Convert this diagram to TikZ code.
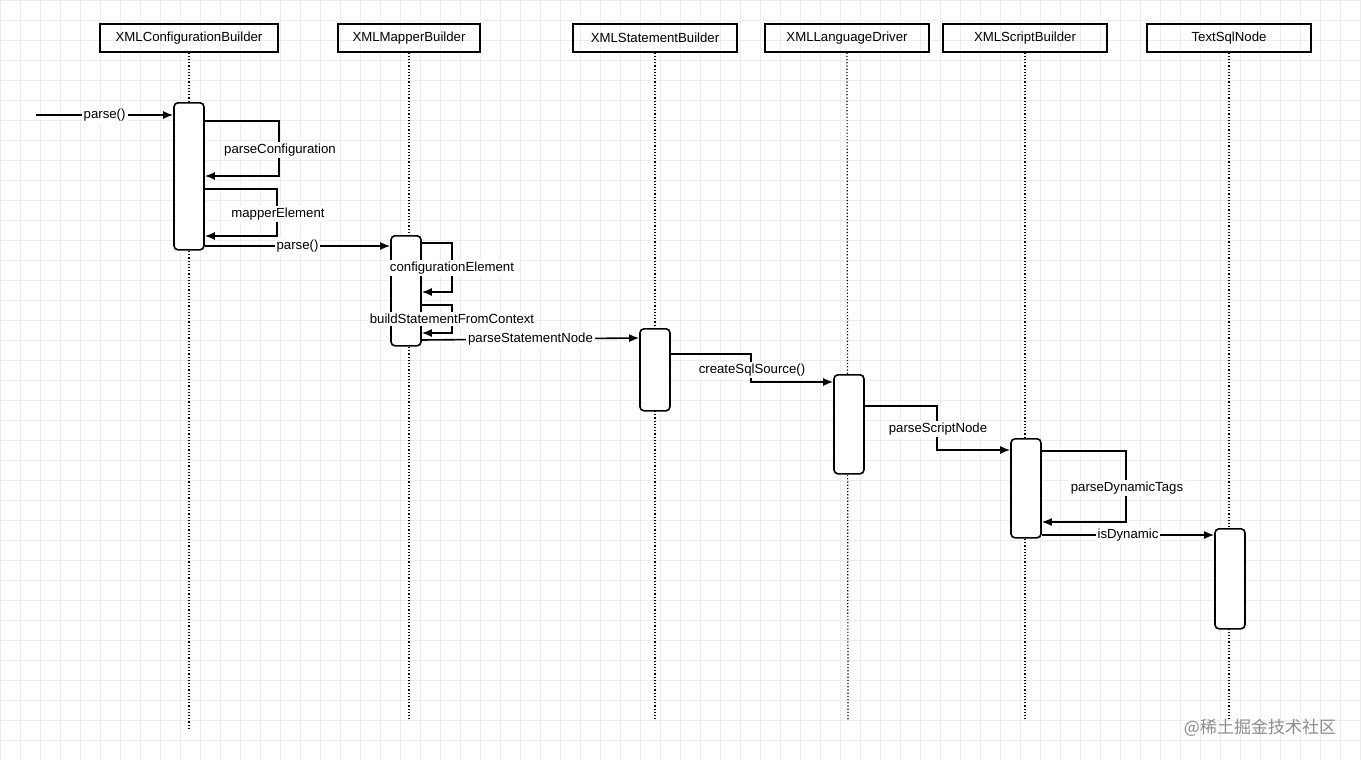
\documentclass[tikz,border=0pt]{standalone}
\usepackage{fontspec}
\setmainfont{Liberation Sans}
\newfontfamily\cjk{Noto Sans CJK SC}
\usetikzlibrary{arrows.meta}

\tikzset{
  head/.style={draw, semithick, minimum width=#1, minimum height=14pt, inner sep=0pt, font=\fontsize{6.6}{8}\selectfont},
  act/.style={draw, thick, fill=white, rounded corners=2pt, minimum width=15pt, inner sep=0pt},
  life/.style={densely dotted, semithick},
  msg/.style={thick, -{Latex[length=5pt,width=4pt]}},
  lbl/.style={fill=white, inner sep=1pt, font=\fontsize{6.6}{8}\selectfont}
}

\begin{document}
\begin{tikzpicture}[x=0.5pt, y=-0.5pt]
    \useasboundingbox (0,0) rectangle (1361,760);
    % grid
    \foreach \gx in {0,20,...,1360} \draw[black!7] (\gx,0) -- (\gx,760);
    \foreach \gy in {0,20,...,760} \draw[black!7] (0,\gy) -- (1361,\gy);
    % heads
    \node[head=89pt]  (cfg) at (189,38)  {XMLConfigurationBuilder};
    \node[head=71pt]  (map) at (409,38)  {XMLMapperBuilder};
    \node[head=82pt]  (stm) at (655,38)  {XMLStatementBuilder};
    \node[head=82pt]  (drv) at (847,38)  {XMLLanguageDriver};
    \node[head=82pt]  (scr) at (1025,38) {XMLScriptBuilder};
    \node[head=82pt]  (txt) at (1229,38) {TextSqlNode};
    % lifelines
    \coordinate (cfgE) at (189,728);
    \coordinate (mapE) at (409,720);
    \coordinate (stmE) at (655,720);
    \coordinate (drvE) at (848,720);
    \coordinate (scrE) at (1025,720);
    \coordinate (txtE) at (1229,720);
    \foreach \n in {cfg,map,stm,drv,scr,txt} \draw[life] (\n.south) -- (\n E);
    % activations
    \node[act, minimum height=73.5pt, anchor=north] (a1) at (189,102) {};
    \node[act, minimum height=55pt, anchor=north]   (a2) at (406,235) {};
    \node[act, minimum height=41pt, anchor=north]   (a3) at (655,328) {};
    \node[act, minimum height=49.5pt, anchor=north] (a4) at (849,374) {};
    \node[act, minimum height=49.5pt, anchor=north] (a5) at (1026,438) {};
    \node[act, minimum height=50pt, anchor=north]   (a6) at (1230,528) {};
    % messages
    \coordinate (start) at (36,115);
    \draw[msg] (start) -- (a1.west |- start) node[lbl, pos=0.5] {parse()};
    \draw[msg] (a1.east |- 0,121) -- (279,121) -- (279,176) -- (a1.east |- 0,176);
    \node[lbl] (l1) at (280,150) {parseConfiguration};
    \draw[msg] (a1.east |- 0,189) -- (277,189) -- (277,236) -- (a1.east |- 0,236);
    \node[lbl] (l2) at (278,214) {mapperElement};
    \draw[msg] (a1.east |- 0,246) -- (a2.west |- 0,246) node[lbl, pos=0.5] {parse()};
    \draw[msg] (a2.east |- 0,243) -- (452,243) -- (452,292) -- (a2.east |- 0,292);
    \node[lbl] (l3) at (452,268) {configurationElement};
    \draw[msg] (a2.east |- 0,305) -- (452,305) -- (452,333) -- (a2.east |- 0,333);
    \node[lbl] (l4) at (452,319) {buildStatementFromContext};
    \draw[msg] (a2.east |- 0,340) -- (a3.west |- 0,338) node[lbl, pos=0.5] {parseStatementNode};
    \draw[msg] (a3.east |- 0,354) -- (751,354) -- (751,382) -- (a4.west |- 0,382);
    \node[lbl] (l5) at (752,370) {createSqlSource()};
    \draw[msg] (a4.east |- 0,406) -- (937,406) -- (937,450) -- (a5.west |- 0,450);
    \node[lbl] (l6) at (938,429) {parseScriptNode};
    \draw[msg] (a5.east |- 0,451) -- (1126,451) -- (1126,522) -- (a5.east |- 0,522);
    \node[lbl] (l7) at (1127,488) {parseDynamicTags};
    \draw[msg] (a5.east |- 0,535) -- (a6.west |- 0,535) node[lbl, pos=0.5] {isDynamic};
    % watermark
    \node[text=black!45, font=\cjk\fontsize{8.5}{10}\selectfont] (wm) at (1260,728) {@稀土掘金技术社区};
\end{tikzpicture}
\end{document}
